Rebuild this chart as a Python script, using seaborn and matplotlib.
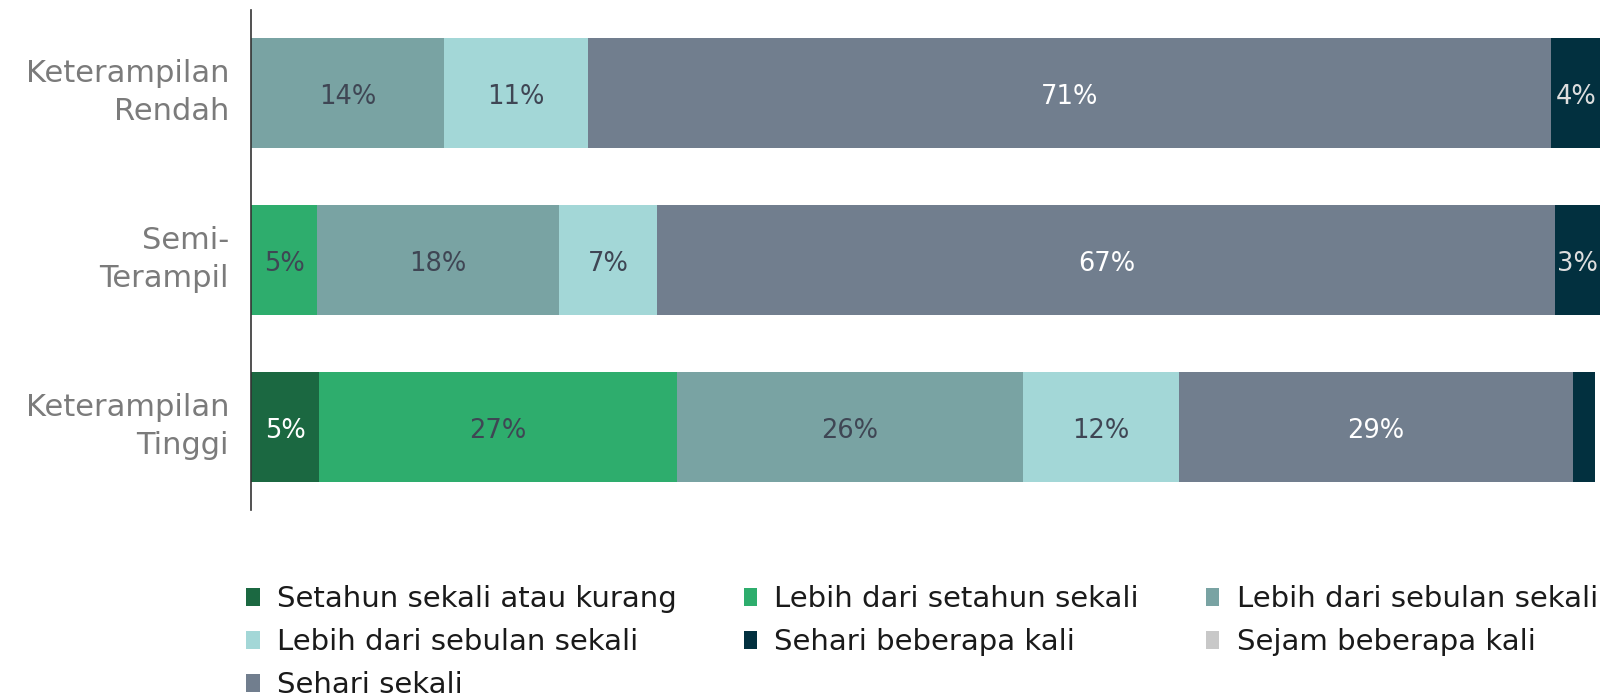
import matplotlib
matplotlib.use("Agg")
import matplotlib.pyplot as plt
import matplotlib.transforms as mtransforms
import seaborn as sns
import numpy as np
from matplotlib.patches import Patch

# categories (top to bottom)
categories = ["Keterampilan\nRendah", "Semi-\nTerampil", "Keterampilan\nTinggi"]

# shares in percent
setahun_sekali = [0.0, 0.0, 5.0]
lebih_setahun = [0.0, 4.9, 26.6]
lebih_sebulan = [14.3, 17.9, 25.6]
lebih_sebulan_2 = [10.7, 7.3, 11.6]
sehari_sekali = [71.4, 66.6, 29.2]
sehari_beberapa = [3.6, 3.3, 1.6]
sejam_beberapa = [0.0, 0.0, 0.0]

# stacking order, left to right
series = [
    ("Setahun sekali atau kurang", setahun_sekali, "#1b6841", "white"),
    ("Lebih dari setahun sekali", lebih_setahun, "#2ead6d", "#3f4654"),
    ("Lebih dari sebulan sekali", lebih_sebulan, "#79a3a3", "#3f4654"),
    ("Lebih dari sebulan sekali ", lebih_sebulan_2, "#a3d7d7", "#3f4654"),
    ("Sehari sekali", sehari_sekali, "#717e8e", "white"),
    ("Sehari beberapa kali", sehari_beberapa, "#02303f", "#dedede"),
    ("Sejam beberapa kali", sejam_beberapa, "#c8c8c8", "#3f4654"),
]
legend_order = [0, 1, 2, 3, 5, 6, 4]

sns.set_style("white")
plt.rcParams["font.family"] = ["DejaVu Sans"]

fig = plt.figure(figsize=(16.21, 6.96), dpi=100)
ax = fig.add_axes([0.155, 0.267, 0.832, 0.719])

values = np.array([s[1] for s in series])
cum = values.cumsum(axis=0)

# draw cumulative bars from the widest to the narrowest so they stack
for i in range(len(series) - 1, -1, -1):
    sns.barplot(x=cum[i], y=categories, orient="h", color=series[i][2],
                saturation=1, width=0.66, linewidth=0, ax=ax)

# segment labels
for i, (name, vals, col, tcol) in enumerate(series):
    for j, v in enumerate(vals):
        if v >= 2.5:
            ax.text(cum[i][j] - v / 2, j + 0.025, f"{round(v)}%", ha="center", va="center",
                    fontsize=18.5, color=tcol)

ax.set_xlim(0, 100)
ax.set_ylim(2.5, -0.5)
ax.set_xlabel("")
ax.set_ylabel("")
ax.set_xticks([])
for side in ["top", "right", "bottom"]:
    ax.spines[side].set_visible(False)
ax.spines["left"].set_color("#333333")
ax.spines["left"].set_linewidth(1.2)
ax.tick_params(axis="y", length=0, pad=16, labelsize=22, labelcolor="#7b7b7b")
# labels sit a little above the bar centre in the original
shift = mtransforms.ScaledTranslation(0, 0.08, fig.dpi_scale_trans)
for t in ax.get_yticklabels():
    t.set_linespacing(1.4)
    t.set_transform(t.get_transform() + shift)

handles = [Patch(facecolor=series[k][2], edgecolor="none") for k in legend_order]
labels = [series[k][0].strip() for k in legend_order]
# matplotlib fills legend column by column; reorder so it reads row by row
ncol = 3
order = [0, 3, 6, 1, 4, 2, 5]
fig.legend([handles[k] for k in order], [labels[k] for k in order],
           loc="upper left", bbox_to_anchor=(0.152, 0.159), ncol=ncol,
           frameon=False, fontsize=21, labelcolor="#1a1a1a",
           handlelength=0.45, handleheight=0.6,
           handletextpad=0.6, columnspacing=2.3, labelspacing=0.51,
           borderpad=0, borderaxespad=0)

fig.savefig("out.png", dpi=100)
